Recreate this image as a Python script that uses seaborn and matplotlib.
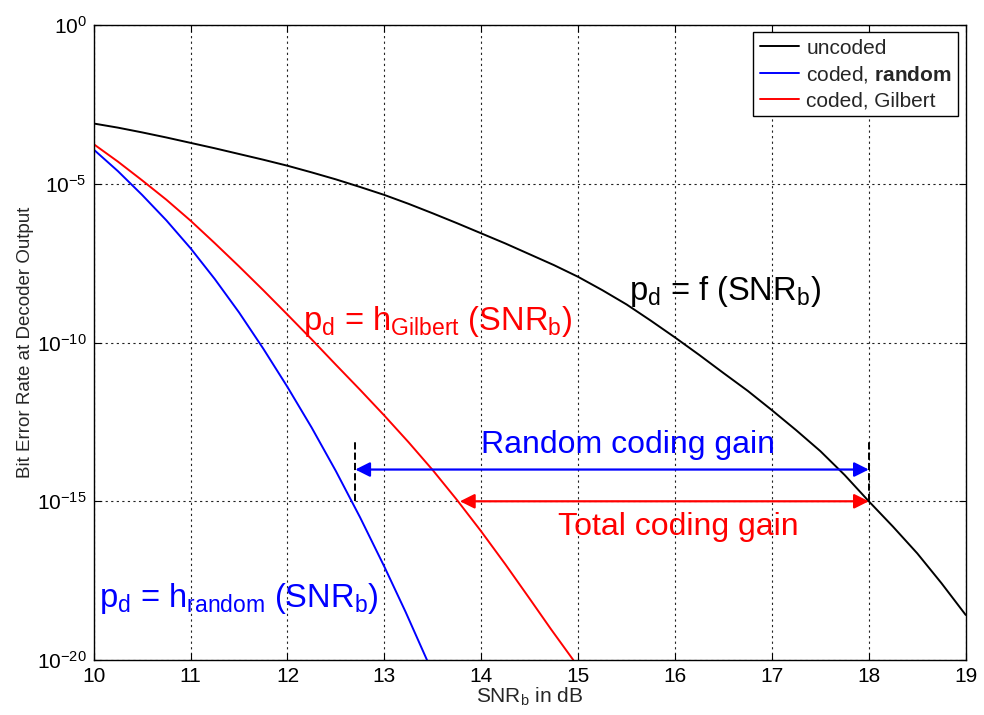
import numpy as np
import pandas as pd
import matplotlib
matplotlib.use('Agg')
import matplotlib.pyplot as plt
import seaborn as sns

# BER curves (log10 of bit error rate)
snr_uncoded = [10, 10.25, 10.5, 10.75, 11, 11.25, 11.5, 11.75, 12, 12.25,
               12.5, 12.75, 13, 13.25, 13.5, 13.75, 14, 14.25, 14.5, 14.75,
               15, 15.25, 15.5, 15.75, 16, 16.25, 16.5, 16.75, 17, 17.25,
               17.5, 17.75, 18, 18.25, 18.5, 18.75, 19]
log_uncoded = [-3.10, -3.23, -3.38, -3.54, -3.71, -3.88, -4.06, -4.24, -4.43,
               -4.64, -4.86, -5.10, -5.35, -5.63, -5.93, -6.24, -6.56, -6.88,
               -7.22, -7.56, -7.93, -8.35, -8.80, -9.31, -9.84, -10.39, -10.96,
               -11.52, -12.13, -12.76, -13.42, -14.17, -15.00, -15.80, -16.64,
               -17.58, -18.58]

snr_random = [10, 10.25, 10.5, 10.75, 11, 11.25, 11.5, 11.75, 12, 12.25,
              12.5, 12.75, 13, 13.22, 13.44]
log_random = [-3.92, -4.60, -5.35, -6.15, -7.03, -8.00, -9.05, -10.19, -11.40,
              -12.68, -14.05, -15.51, -17.06, -18.49, -20.0]

snr_gilbert = [10, 10.25, 10.5, 10.75, 11, 11.25, 11.5, 11.75, 12, 12.25,
               12.5, 12.75, 13, 13.25, 13.5, 13.75, 14, 14.25, 14.5, 14.72,
               14.95]
log_gilbert = [-3.75, -4.30, -4.89, -5.50, -6.16, -6.87, -7.60, -8.35, -9.12,
               -9.90, -10.70, -11.49, -12.30, -13.14, -14.02, -14.96, -15.95,
               -16.99, -18.07, -19.03, -20.0]

labels = ['uncoded', r'coded, $\mathbf{random}$', 'coded, Gilbert']
colors = ['black', 'blue', 'red']

# coding gain markers at the target BER
target_ber = 1e-15
random_gain_ber = 1e-14
snr_random_at_target = 12.7
snr_gilbert_at_target = 13.78
snr_uncoded_at_target = 18.0
marker_top_ber = 10 ** -13.1

df = pd.concat([
    pd.DataFrame({'snr': snr_uncoded, 'ber': 10.0 ** np.array(log_uncoded), 'curve': labels[0]}),
    pd.DataFrame({'snr': snr_random, 'ber': 10.0 ** np.array(log_random), 'curve': labels[1]}),
    pd.DataFrame({'snr': snr_gilbert, 'ber': 10.0 ** np.array(log_gilbert), 'curve': labels[2]}),
], ignore_index=True)

sns.set_style('ticks')
plt.rcParams['font.family'] = ['Liberation Sans', 'DejaVu Sans']
plt.rcParams['mathtext.fontset'] = 'custom'
plt.rcParams['mathtext.rm'] = 'Liberation Sans'
plt.rcParams['mathtext.it'] = 'Liberation Sans:italic'
plt.rcParams['mathtext.bf'] = 'Liberation Sans:bold'
plt.rcParams['axes.unicode_minus'] = False

fig = plt.figure(figsize=(9.84, 7.15), dpi=100)
ax = fig.add_axes([0.0952, 0.0769, 0.8862, 0.888])

sns.lineplot(data=df, x='snr', y='ber', hue='curve', hue_order=labels,
             palette=dict(zip(labels, colors)), estimator=None, sort=False,
             linewidth=1.4, ax=ax)

ax.set_yscale('log')
ax.set_xlim(10, 19)
ax.set_ylim(1e-20, 1e0)
ax.set_xticks(range(10, 20))
ax.set_yticks([1e0, 1e-5, 1e-10, 1e-15, 1e-20])
ax.yaxis.set_minor_locator(matplotlib.ticker.NullLocator())
ax.grid(True, color='#222222', linestyle=(0, (2, 3)), linewidth=0.8)
ax.tick_params(direction='in', length=5, width=0.8, top=True, right=True,
               labelsize=15, pad=5, colors='black')
for sp in ax.spines.values():
    sp.set_color('black')
    sp.set_linewidth(1.0)

ax.set_xlabel(r'SNR$_\mathrm{b}$ in dB', fontsize=15, labelpad=0)
ax.set_ylabel('Bit Error Rate at Decoder Output', fontsize=13.5, labelpad=2)

# legend: rebuild to get a plain MATLAB-like box
old = ax.get_legend()
handles = old.legend_handles
texts = [t.get_text() for t in old.get_texts()]
ax.legend(handles, texts, loc='upper right', fontsize=15, frameon=True,
          fancybox=False, framealpha=1, edgecolor='black', borderpad=0.3,
          labelspacing=0.3, handlelength=1.9, handletextpad=0.35,
          borderaxespad=0.35)
ax.get_legend().get_frame().set_linewidth(1.0)

# coding gain arrows and markers
ax.plot([snr_random_at_target] * 2, [target_ber, marker_top_ber], color='black',
        linestyle='--', linewidth=1.4)
ax.plot([snr_uncoded_at_target] * 2, [target_ber, marker_top_ber], color='black',
        linestyle='--', linewidth=1.4)
ax.annotate('', xy=(snr_uncoded_at_target, random_gain_ber),
            xytext=(snr_random_at_target, random_gain_ber),
            arrowprops=dict(arrowstyle='<|-|>', color='blue', lw=1.6,
                            mutation_scale=22, shrinkA=0, shrinkB=0))
ax.annotate('', xy=(snr_uncoded_at_target, target_ber),
            xytext=(snr_gilbert_at_target, target_ber),
            arrowprops=dict(arrowstyle='<|-|>', color='red', lw=1.6,
                            mutation_scale=22, shrinkA=0, shrinkB=0))

ax.text(14.0, 10 ** -13.49, 'Random coding gain', color='blue', fontsize=23)
ax.text(14.79, 10 ** -16.06, 'Total coding gain', color='red', fontsize=23)
ax.text(15.53, 10 ** -8.66, r'p$_\mathrm{d}$ = f (SNR$_\mathrm{b}$)',
        color='black', fontsize=23.5)
ax.text(12.16, 10 ** -9.61, r'p$_\mathrm{d}$ = h$_\mathrm{Gilbert}$ (SNR$_\mathrm{b}$)',
        color='red', fontsize=23.5)
ax.text(10.05, 10 ** -18.32, r'p$_\mathrm{d}$ = h$_\mathrm{random}$ (SNR$_\mathrm{b}$)',
        color='blue', fontsize=23.5)

fig.savefig('out.png', dpi=100, facecolor='white')
